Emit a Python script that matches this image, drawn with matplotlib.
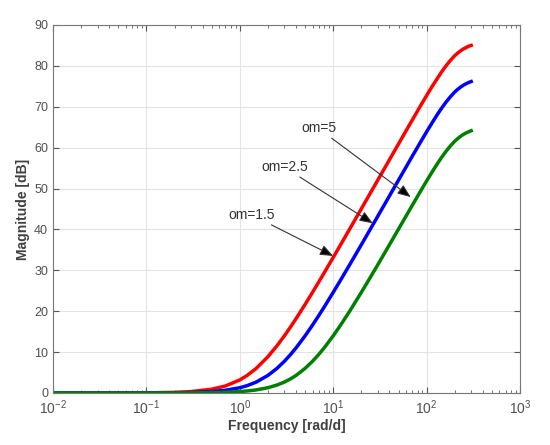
import matplotlib.pyplot as plt
from matplotlib.ticker import LogLocator, NullFormatter

plt.rcParams['font.family'] = ['Liberation Sans', 'DejaVu Sans']
plt.rcParams['mathtext.fontset'] = 'custom'
plt.rcParams['mathtext.rm'] = 'Liberation Sans'

# Frequency points [rad/d] and magnitudes [dB]
freq = [0.01, 0.1, 0.2, 0.3, 0.5, 0.7, 1, 1.2, 1.5, 2, 2.5, 3, 3.5, 4, 5, 6, 7, 8,
        10, 12, 15, 20, 25, 30, 40, 50, 60, 70, 85, 100, 115, 130, 145, 160,
        180, 200, 215, 230, 245, 260, 280, 300]
mag_om15 = [0.0, 0.04, 0.15, 0.34, 0.92, 1.71, 3.19, 4.30, 6.02, 8.87, 11.55,
            13.98, 16.18, 18.18, 21.66, 24.61, 27.15, 29.38, 33.15, 36.26, 40.09,
            45.05, 48.91, 52.06, 57.04, 60.9, 64.06, 66.7, 70.02, 72.75, 75.03,
            76.9, 78.55, 79.9, 81.35, 82.5, 83.12, 83.65, 84.07, 84.4, 84.77, 85.0]
mag_om25 = [0.0, 0.01, 0.06, 0.12, 0.34, 0.66, 1.29, 1.80, 2.67, 4.3, 6.02,
            7.75, 9.43, 11.03, 13.98, 16.60, 18.93, 21.01, 24.61, 27.62, 31.36,
            36.26, 40.09, 43.23, 48.2, 52.05, 55.19, 57.85, 61.15, 63.88, 66.15,
            68.07, 69.68, 71.03, 72.47, 73.6, 74.25, 74.77, 75.2, 75.55, 75.9, 76.17]
mag_om5 = [0.0, 0.0, 0.01, 0.03, 0.09, 0.17, 0.34, 0.49, 0.75, 1.29, 1.94,
           2.67, 3.46, 4.3, 6.02, 7.75, 9.43, 11.03, 13.98, 16.60, 20.0,
           24.61, 28.30, 31.36, 36.26, 40.08, 43.2, 45.84, 49.14, 51.85, 54.12,
           56.04, 57.65, 58.99, 60.45, 61.56, 62.22, 62.73, 63.17, 63.51, 63.86, 64.13]

fig = plt.figure(figsize=(5.5, 4.45), dpi=100)
ax = fig.add_axes([0.0964, 0.1169, 0.8491, 0.8270])

ax.semilogx(freq, mag_om15, color='#ff0000', lw=2.5)
ax.semilogx(freq, mag_om25, color='#0000ff', lw=2.5)
ax.semilogx(freq, mag_om5, color='#008000', lw=2.5)

ax.set_xlim(1e-2, 1e3)
ax.set_ylim(0, 90)
ax.set_yticks(range(0, 91, 10))
ax.xaxis.set_major_locator(LogLocator(base=10, numticks=10))
ax.xaxis.set_minor_locator(LogLocator(base=10, subs=range(2, 10), numticks=10))
ax.xaxis.set_minor_formatter(NullFormatter())

ax.grid(True, which='major', color='#e3e3e3', lw=0.8)
ax.set_axisbelow(True)
ax.tick_params(which='both', direction='in', top=True, right=True,
               color='#555555', labelcolor='#505050')
ax.tick_params(axis='y', labelsize=9)
ax.tick_params(axis='x', labelsize=10, pad=4)
ax.tick_params(which='major', length=4)
ax.tick_params(which='minor', length=2)
for s in ax.spines.values():
    s.set_color('#777777')
    s.set_linewidth(0.8)

ax.set_xlabel('Frequency [rad/d]', fontsize=10, fontweight='bold', color='#404040', labelpad=1)
ax.set_ylabel('Magnitude [dB]', fontsize=10, fontweight='bold', color='#404040', labelpad=3)

arrow = dict(arrowstyle='-|>,head_length=0.8,head_width=0.32', fc='black',
             ec='#333333', lw=0.8, shrinkA=0, shrinkB=0)
ax.annotate('om=1.5', xy=(10, 33.5), xytext=(1.35, 43.5), fontsize=10, color='#333333',
            ha='center', va='center', arrowprops=arrow)
ax.annotate('om=2.5', xy=(26.5, 41.5), xytext=(3.0, 55.2), fontsize=10, color='#333333',
            ha='center', va='center', arrowprops=arrow)
ax.annotate('om=5', xy=(67.6, 47.9), xytext=(6.96, 64.7), fontsize=10, color='#333333',
            ha='center', va='center', arrowprops=arrow)

fig.savefig('out.png', dpi=100)
